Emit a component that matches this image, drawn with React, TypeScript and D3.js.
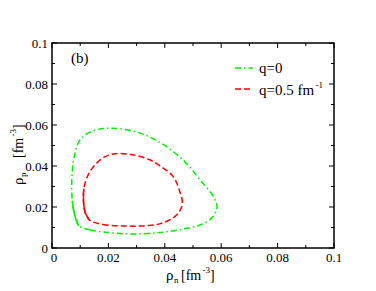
import React from "react";
import * as d3 from "d3";

type P = [number, number];

const xTicks = [0, 0.02, 0.04, 0.06, 0.08, 0.1];
const yTicks = [0, 0.02, 0.04, 0.06, 0.08, 0.1];
const xTickLabels = ["0", "0.02", "0.04", "0.06", "0.08", "0.1"];
const yTickLabels = ["0", "0.02", "0.04", "0.06", "0.08", "0.1"];

// q = 0 (green), closed loop, starting lower-left
const greenLoop: P[] = [
  [0.0095, 0.0108], [0.0135, 0.0088], [0.02, 0.0076], [0.0265, 0.0069], [0.034, 0.0071],
  [0.0405, 0.0079], [0.047, 0.0094], [0.0525, 0.0112], [0.0563, 0.0142], [0.0585, 0.0195],
  [0.0575, 0.0245], [0.0525, 0.0332], [0.0468, 0.0425], [0.0385, 0.0513], [0.030, 0.0566],
  [0.0208, 0.0584], [0.0147, 0.0572], [0.0099, 0.0527], [0.0078, 0.0440], [0.0071, 0.0355],
  [0.0070, 0.0290], [0.0072, 0.0230], [0.0078, 0.0175], [0.0086, 0.0135],
];
// q = 0.5 fm^-1 (red), closed loop, starting lower-left
const redLoop: P[] = [
  [0.0134, 0.0135], [0.018, 0.0115], [0.0265, 0.0107], [0.0335, 0.0109], [0.0385, 0.0119],
  [0.0442, 0.0161], [0.0462, 0.0215], [0.0452, 0.0280], [0.0430, 0.0348], [0.0385, 0.0399],
  [0.0348, 0.0429], [0.0285, 0.0455], [0.0217, 0.0459], [0.0170, 0.0429], [0.0131, 0.0364],
  [0.0113, 0.0290], [0.0112, 0.0220], [0.0119, 0.0168],
];
const greenSolidIdx = [21, 24];
const redSolidIdx = [15, 18];

const W = 376, H = 291;
const left = 52, right = 334, top = 43, bottom = 248;

export default function App() {
  const x = d3.scaleLinear().domain([0, 0.1]).range([left, right]);
  const y = d3.scaleLinear().domain([0, 0.1]).range([bottom, top]);
  const closed = d3.line<P>().x(d => x(d[0])).y(d => y(d[1])).curve(d3.curveCatmullRomClosed);
  const open = d3.line<P>().x(d => x(d[0])).y(d => y(d[1])).curve(d3.curveCatmullRom);

  const seg = (arr: P[], idx: number[]) => {
    const out: P[] = [];
    for (let i = idx[0]; i <= idx[1]; i++) out.push(arr[i % arr.length]);
    return out;
  };

  const minor = d3.range(0, 0.1001, 0.01);
  const font = "'Liberation Serif', 'Times New Roman', Times, serif";
  const ts = { fontFamily: font };

  return (
    <svg width={W} height={H} style={{ position: "absolute", left: 0, top: 0, fontFamily: font }}>
      <rect width={W} height={H} fill="white" />
      <path d={closed(greenLoop) || ""} fill="none" stroke="#00ee00" strokeWidth={1.5} strokeDasharray="6 3 1.5 3" />
      <path d={open(seg(greenLoop, greenSolidIdx)) || ""} fill="none" stroke="#00ee00" strokeWidth={1.5} />
      <path d={closed(redLoop) || ""} fill="none" stroke="#ff0000" strokeWidth={1.5} strokeDasharray="6 3" />
      <path d={open(seg(redLoop, redSolidIdx)) || ""} fill="none" stroke="#ff0000" strokeWidth={1.5} />

      {minor.map((v, i) => {
        const L = i % 2 === 0 ? 5 : 3;
        return (
          <g key={i} stroke="black" strokeWidth={1}>
            <line x1={x(v)} x2={x(v)} y1={bottom} y2={bottom - L} />
            <line x1={x(v)} x2={x(v)} y1={top} y2={top + L} />
            <line x1={left} x2={left + L} y1={y(v)} y2={y(v)} />
            <line x1={right} x2={right - L} y1={y(v)} y2={y(v)} />
          </g>
        );
      })}
      <rect x={left} y={top} width={right - left} height={bottom - top} fill="none" stroke="black" strokeWidth={1.5} />

      {xTicks.map((v, i) => (
        <text key={i} style={ts} x={x(v) + (i === 0 ? 2 : 0)} y={bottom + 14} fontSize={13} textAnchor="middle">{xTickLabels[i]}</text>
      ))}
      {yTicks.map((v, i) => (
        <text key={i} style={ts} x={left - 4} y={y(v) + 4.5} fontSize={13} textAnchor="end">{yTickLabels[i]}</text>
      ))}

      <text style={ts} x={71} y={63} fontSize={15}>(b)</text>

      <line x1={235} x2={253} y1={68} y2={68} stroke="#00ee00" strokeWidth={1.5} strokeDasharray="6 3 1.5 3" />
      <text style={ts} x={259} y={73} fontSize={15}>q=0</text>
      <line x1={235} x2={253} y1={89} y2={89} stroke="#ff0000" strokeWidth={1.5} strokeDasharray="6 3" />
      <text style={ts} x={259} y={95} fontSize={15}>q=0.5 fm</text>
      <text style={ts} x={315.5} y={88} fontSize={9}>-1</text>

      <text style={ts} x={166} y={280} fontSize={15}>ρ</text>
      <text style={ts} x={174} y={283} fontSize={9}>n</text>
      <text style={ts} x={181} y={280} fontSize={14}>[fm</text>
      <text style={ts} x={202.5} y={273} fontSize={9}>-3</text>
      <text style={ts} x={210} y={280} fontSize={14}>]</text>

      <g transform="translate(23,0) rotate(-90)">
        <text style={ts} x={-185} y={0} fontSize={15}>ρ</text>
        <text style={ts} x={-177} y={3} fontSize={9}>p</text>
        <text style={ts} x={-158} y={0} fontSize={14}>[fm</text>
        <text style={ts} x={-136.5} y={-7} fontSize={9}>-3</text>
        <text style={ts} x={-129} y={0} fontSize={14}>]</text>
      </g>
    </svg>
  );
}
